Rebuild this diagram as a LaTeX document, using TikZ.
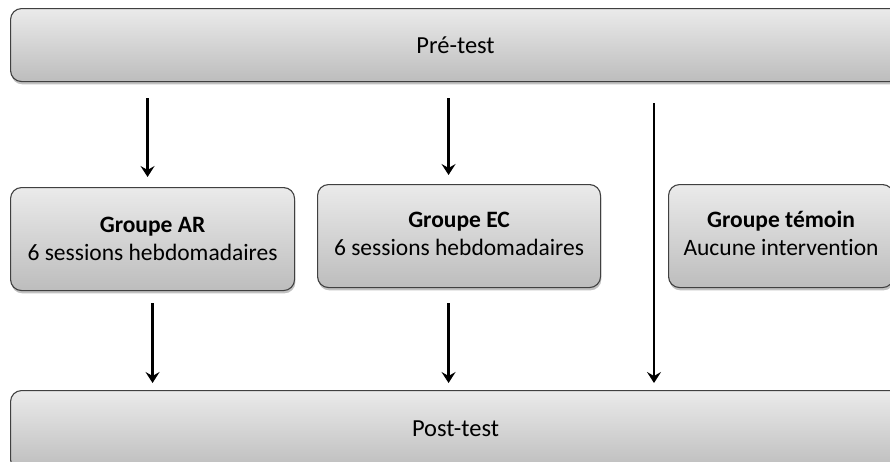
\documentclass[tikz,border=0pt]{standalone}
\usepackage{fontspec}
\setmainfont{Carlito}[Ligatures=NoCommon]
\usetikzlibrary{shadows,arrows.meta}
\tikzset{
  box/.style={draw=black!75, line width=1.1pt, rounded corners=11pt,
    top color=black!8, bottom color=black!26, anchor=north west,
    align=center, inner sep=0pt, text=black,
    drop shadow={shadow xshift=0.8pt, shadow yshift=-2.8pt, opacity=0.35, fill=black!70}},
  bigtxt/.style={font=\fontsize{24.5}{29}\selectfont},
  grptxt/.style={font=\fontsize{23.5}{28}\selectfont},
  arr/.style={line width=2.8pt, -{Stealth[length=11pt,width=14pt,inset=4pt]}},
}
\begin{document}
\begin{tikzpicture}[x=1pt,y=-1pt]
\useasboundingbox (0,0) rectangle (890,461);
\clip (0,0) rectangle (890,461);
\node[box,bigtxt,minimum width=890pt,minimum height=73pt] (pre) at (10,8) {Pré-test};
\node[box,bigtxt,minimum width=890pt,minimum height=80pt] (post) at (10,390) {\raisebox{4pt}{Post-test}};
\node[box,grptxt,minimum width=284pt,minimum height=103pt] (ar) at (10,187) {\textbf{Groupe AR}\\6 sessions hebdomadaires};
\node[box,grptxt,minimum width=283pt,minimum height=103pt] (ec) at (317,184) {\raisebox{3pt}{\begin{tabular}{@{}c@{}}\textbf{Groupe EC}\\6 sessions hebdomadaires\end{tabular}}};
\node[box,grptxt,minimum width=225pt,minimum height=103pt] (tem) at (668,184) {\raisebox{3pt}{\begin{tabular}{@{}c@{}}\textbf{Groupe témoin}\\Aucune intervention\end{tabular}}};
% arrows from pre-test
\draw[arr] ([xshift=-5pt,yshift=-16pt]pre.south -| ar.north) -- ([xshift=-5pt,yshift=10pt]ar.north);
\draw[arr] ([xshift=-10.5pt,yshift=-16pt]pre.south -| ec.north) -- ([xshift=-10.5pt,yshift=9pt]ec.north);
\coordinate (long) at (654,103);
\draw[arr] (long) -- ([yshift=7pt]long |- post.north);
% arrows to post-test
\draw[arr] ([yshift=-12pt]ar.south) -- ([yshift=7pt]ar.south |- post.north);
\draw[arr] ([xshift=-10.5pt,yshift=-15pt]ec.south) -- ([xshift=-10.5pt,yshift=7pt]ec.south |- post.north);
\end{tikzpicture}
\end{document}
